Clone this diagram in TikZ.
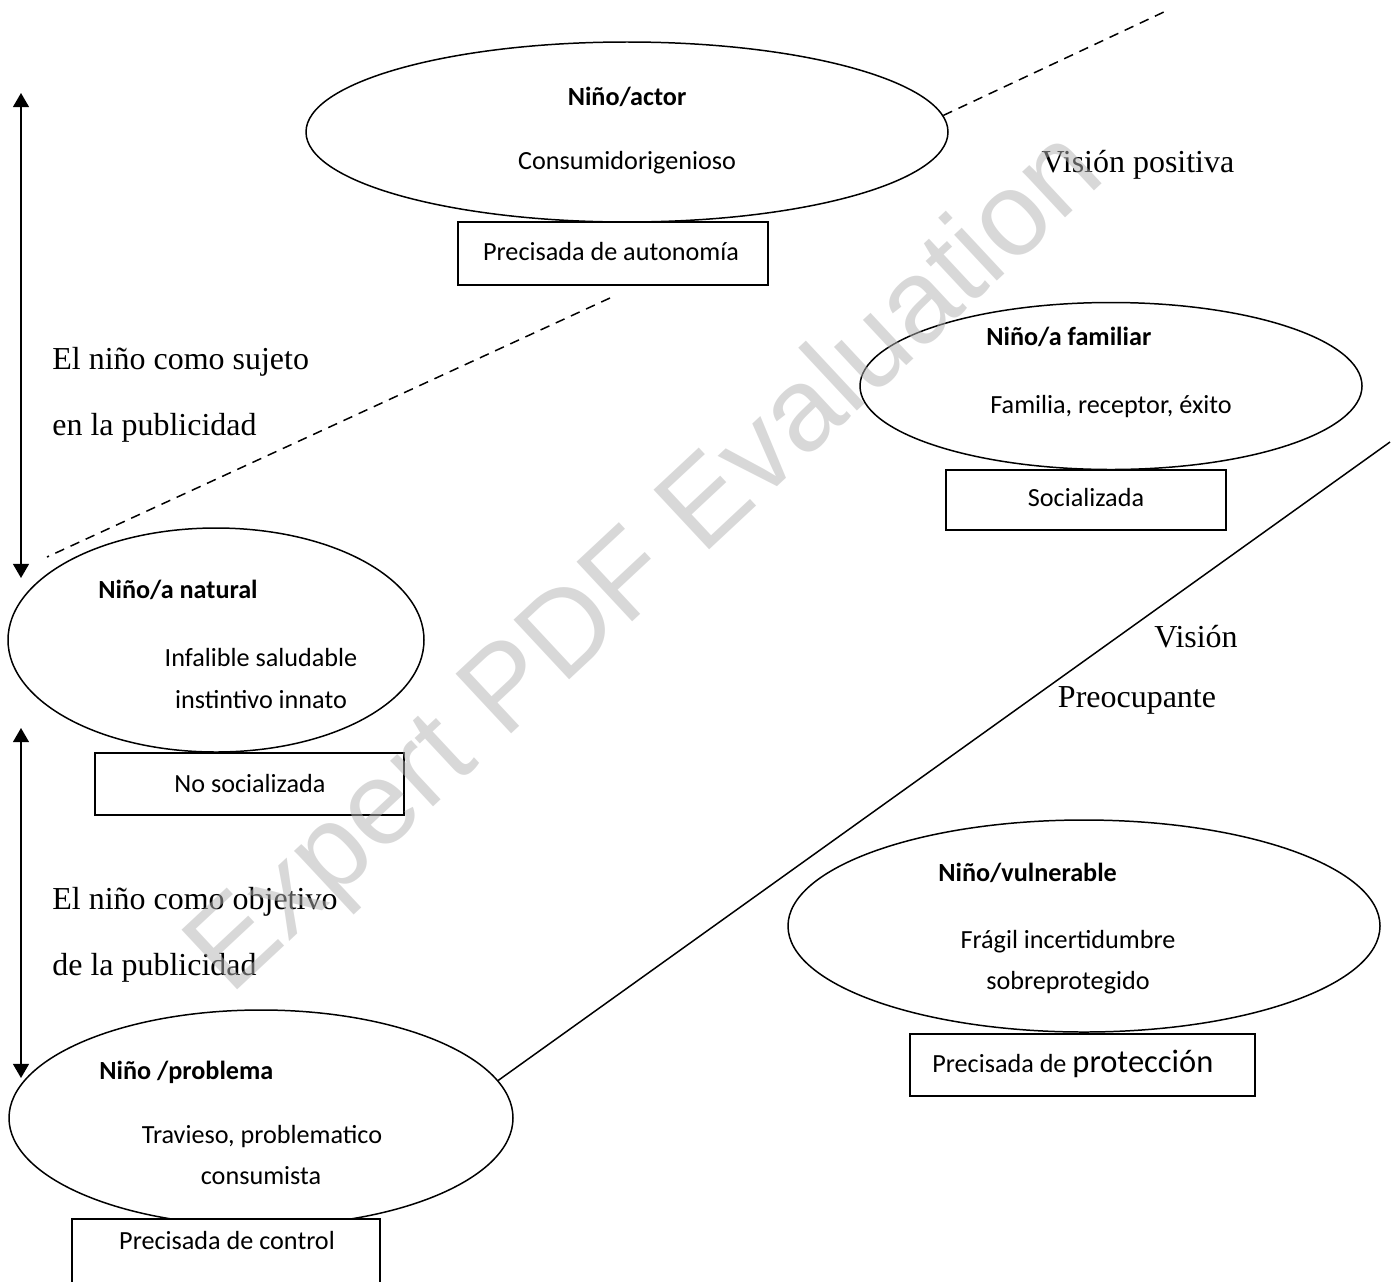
\documentclass[tikz,border=0pt]{standalone}
\usepackage{fontspec}
\setmainfont{Liberation Serif}
\newfontfamily\calibri{Carlito}
\newfontfamily\arialf{Liberation Sans}
\usetikzlibrary{shapes.geometric,arrows.meta}
\begin{document}
\begin{tikzpicture}[x=0.02cm,y=-0.02cm,
  oval/.style={draw,line width=0.85pt,ellipse,inner sep=0pt},
  tagbox/.style={draw,line width=0.85pt,fill=white,rectangle,inner sep=0pt},
  stxt/.style={font=\calibri\fontsize{14.9}{18}\selectfont,inner sep=0pt},
  btxt/.style={font=\calibri\bfseries\fontsize{14.9}{18}\selectfont,inner sep=0pt,anchor=west},
  rtxt/.style={font=\fontsize{18.2}{22}\selectfont,inner sep=0pt},
  divider/.style={line width=0.85pt},
  dashdiv/.style={line width=0.85pt,dash pattern=on 5.5pt off 4pt},
  dblarrow/.style={line width=1pt,{Triangle[length=8pt,width=9pt]}-{Triangle[length=8pt,width=9pt]}},
  wmark/.style={font=\arialf\fontsize{67.5}{78}\selectfont,text=black!30,opacity=0.5,inner sep=0pt}
]
\useasboundingbox (0,0) rectangle (1398,1281);

% ellipses
\node[oval,minimum width=642*0.02cm,minimum height=180*0.02cm] (actor) at (627,132) {};
\node[oval,minimum width=502*0.02cm,minimum height=167*0.02cm] (familiar) at (1111,386) {};
\node[oval,minimum width=416*0.02cm,minimum height=224*0.02cm] (natural) at (216,640) {};
\node[oval,minimum width=504*0.02cm,minimum height=216*0.02cm] (problema) at (261,1118) {};
\node[oval,minimum width=592*0.02cm,minimum height=212*0.02cm] (vulnerable) at (1084,926) {};

% boxes
\node[tagbox,minimum width=310*0.02cm,minimum height=63*0.02cm] (bautonomia) at (613,253.5) {};
\node[tagbox,minimum width=280*0.02cm,minimum height=60*0.02cm] (bsocial) at (1086,500) {};
\node[tagbox,minimum width=309*0.02cm,minimum height=62*0.02cm] (bnosocial) at (249.5,784) {};
\node[tagbox,minimum width=308*0.02cm,minimum height=64*0.02cm] (bcontrol) at (226,1251) {};
\node[tagbox,minimum width=345*0.02cm,minimum height=62*0.02cm] (bproteccion) at (1082.5,1065) {};

% ellipse texts
\node[stxt,font=\calibri\bfseries\fontsize{14.9}{18}\selectfont] (tactor) at (627,97) {Niño/actor};
\node[stxt] (tactor2) at (627,163) {Consumidorigenioso};
\node[btxt] (tfam) at (986,337) {Niño/a familiar};
\node[stxt] (tfam2) at (1111,407) {Familia, receptor, éxito};
\node[btxt] (tnat) at (98,590) {Niño/a natural};
\node[stxt] (tnat2) at (261,657) {Infalible saludable};
\node[stxt] (tnat3) at (261,700) {instintivo innato};
\node[btxt] (tprob) at (99,1072) {Niño /problema};
\node[stxt] (tprob2) at (262,1137) {Travieso, problematico};
\node[stxt] (tprob3) at (261,1176) {consumista};
\node[btxt] (tvul) at (938,873) {Niño/vulnerable};
\node[stxt] (tvul2) at (1068,942) {Frágil incertidumbre};
\begin{scope}
\clip (900,950) rectangle (1250,993);
\node[stxt] (tvul3) at (1068,983) {sobreprotegido};
\end{scope}

% box texts
\node[stxt] (tbaut) at (611,252) {Precisada de autonomía};
\node[stxt] (tbsoc) at (1086,497) {Socializada};
\node[stxt] (tbnos) at (250,783) {No socializada};
\node[stxt] (tbcon) at (227,1240) {Precisada de control};
\node[stxt,anchor=west] (tbpro) at (932,1064) {Precisada de {\fontsize{18.5}{22}\selectfont protección}};

% serif labels
\node[rtxt] (vpos) at (1138,165) {Visión positiva};
\node[rtxt] (vpre1) at (1196,637) {Visión};
\node[rtxt] (vpre2) at (1137,700) {Preocupante};
\node[rtxt,anchor=west] (suj1) at (52,362) {El niño como sujeto};
\node[rtxt,anchor=west] (suj2) at (52,428) {en la publicidad};
\node[rtxt,anchor=west] (obj1) at (52,902) {El niño como objetivo};
\node[rtxt,anchor=west] (obj2) at (52,968) {de la publicidad};

% dividers
\coordinate (d1end) at (1166,11);
\coordinate (d2a) at (610,298);
\coordinate (d2b) at (47,557);
\coordinate (s1end) at (1390,442);
\draw[dashdiv] (actor.3) -- (d1end);
\draw[dashdiv] (d2a) -- (d2b);
\draw[divider] (problema.9) -- (s1end);

% arrows
\coordinate (a1t) at (21,93);
\coordinate (a1b) at (21,578);
\coordinate (a2t) at (21,728);
\coordinate (a2b) at (21,1078);
\draw[dblarrow] (a1t) -- (a1b);
\draw[dblarrow] (a2t) -- (a2b);

% watermark
\node[wmark,rotate=43] (wm) at (648,565) {Expert PDF Evaluation};
\end{tikzpicture}
\end{document}
